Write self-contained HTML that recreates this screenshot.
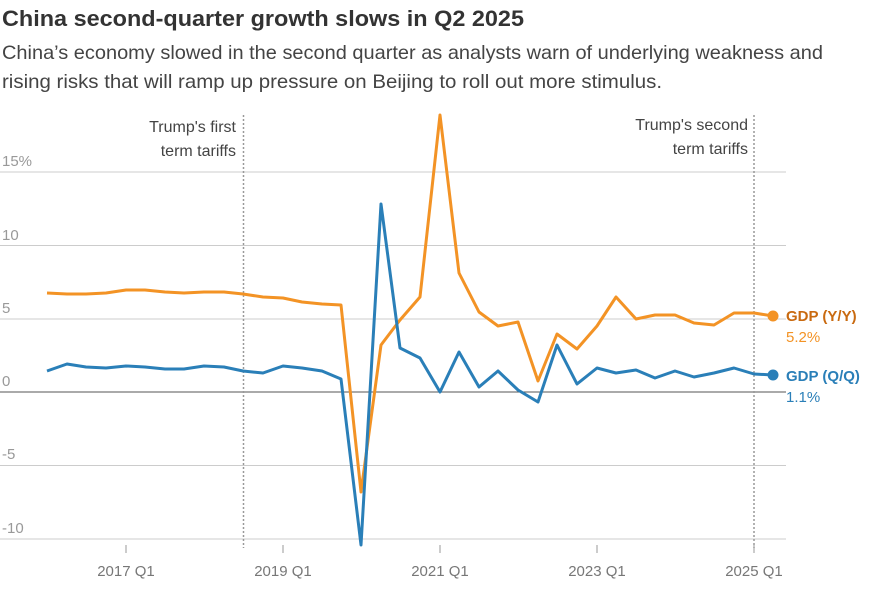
<!DOCTYPE html>
<html><head><meta charset="utf-8"><style>
body{margin:0;background:#fff;font-family:"Liberation Sans",sans-serif}
</style></head><body>
<svg width="872" height="590" xmlns="http://www.w3.org/2000/svg" font-family="Liberation Sans, sans-serif">
<text x="2" y="26" font-size="22" font-weight="bold" fill="#333" textLength="522" lengthAdjust="spacingAndGlyphs">China second-quarter growth slows in Q2 2025</text>
<text x="2" y="59" font-size="19.5" fill="#444" textLength="821" lengthAdjust="spacingAndGlyphs">China’s economy slowed in the second quarter as analysts warn of underlying weakness and</text>
<text x="2" y="88" font-size="19.5" fill="#444" textLength="660" lengthAdjust="spacingAndGlyphs">rising risks that will ramp up pressure on Beijing to roll out more stimulus.</text>
<g stroke="#ccc" stroke-width="1">
<line x1="0" x2="786" y1="172" y2="172"/><line x1="0" x2="786" y1="245.5" y2="245.5"/><line x1="0" x2="786" y1="319" y2="319"/>
<line x1="0" x2="786" y1="465.5" y2="465.5"/><line x1="0" x2="786" y1="539" y2="539"/>
</g>
<line x1="0" x2="786" y1="392" y2="392" stroke="#555" stroke-width="1"/>
<g font-size="15" fill="#999">
<text x="2" y="166">15%</text><text x="2" y="240">10</text><text x="2" y="313">5</text><text x="2" y="386">0</text><text x="2" y="459">-5</text><text x="2" y="533">-10</text>
</g>
<g stroke="#999" stroke-width="1.5" stroke-dasharray="2,2">
<line x1="243.5" x2="243.5" y1="115" y2="548"/><line x1="754" x2="754" y1="115" y2="548"/>
</g>
<g font-size="16" fill="#444">
<text x="236" y="132" text-anchor="end">Trump's first</text><text x="236" y="156" text-anchor="end">term tariffs</text>
<text x="748" y="130" text-anchor="end">Trump's second</text><text x="748" y="154" text-anchor="end">term tariffs</text>
</g>
<g stroke="#999"><line x1="126" x2="126" y1="545" y2="553"/><line x1="283" x2="283" y1="545" y2="553"/><line x1="440" x2="440" y1="545" y2="553"/><line x1="597" x2="597" y1="545" y2="553"/><line x1="754" x2="754" y1="545" y2="553"/></g>
<g font-size="15" fill="#777" text-anchor="middle">
<text x="126" y="576">2017 Q1</text><text x="283" y="576">2019 Q1</text><text x="440" y="576">2021 Q1</text><text x="597" y="576">2023 Q1</text><text x="754" y="576">2025 Q1</text>
</g>
<polyline fill="none" stroke="#f39325" stroke-width="3" stroke-linejoin="round" points="47,293 67,294 86,294 106,293 126,290 145,290 165,292 184,293 204,292 224,292 243,294 263,297 283,298 302,302 322,304 341,305 361,492 381,345 400,320 420,297 440,115 459,273 479,312 498,326 518,322 538,381 557,334 577,349 597,326 616,297 636,319 655,315 675,315 694,323 714,325 734,313 754,313 773,316"/>
<polyline fill="none" stroke="#2a7fb8" stroke-width="3" stroke-linejoin="round" points="47,371 67,364 86,367 106,368 126,366 145,367 165,369 184,369 204,366 224,367 243,371 263,373 283,366 302,368 322,371 341,379 361,545 381,204 400,348 420,358 440,392 459,352 479,387 498,371 518,390 538,402 557,345 577,384 597,368 616,373 636,370 655,378 675,371 694,377 714,373 734,368 754,374 773,375"/>
<circle cx="773" cy="316" r="5.5" fill="#f39325"/><circle cx="773" cy="375" r="5.5" fill="#2a7fb8"/>
<text x="786" y="321" font-size="15" font-weight="bold" fill="#c96a10">GDP (Y/Y)</text>
<text x="786" y="342" font-size="15" fill="#f39325">5.2%</text>
<text x="786" y="381" font-size="15" font-weight="bold" fill="#2a7fb8">GDP (Q/Q)</text>
<text x="786" y="402" font-size="15" fill="#2a7fb8">1.1%</text>
</svg>
</body></html>
